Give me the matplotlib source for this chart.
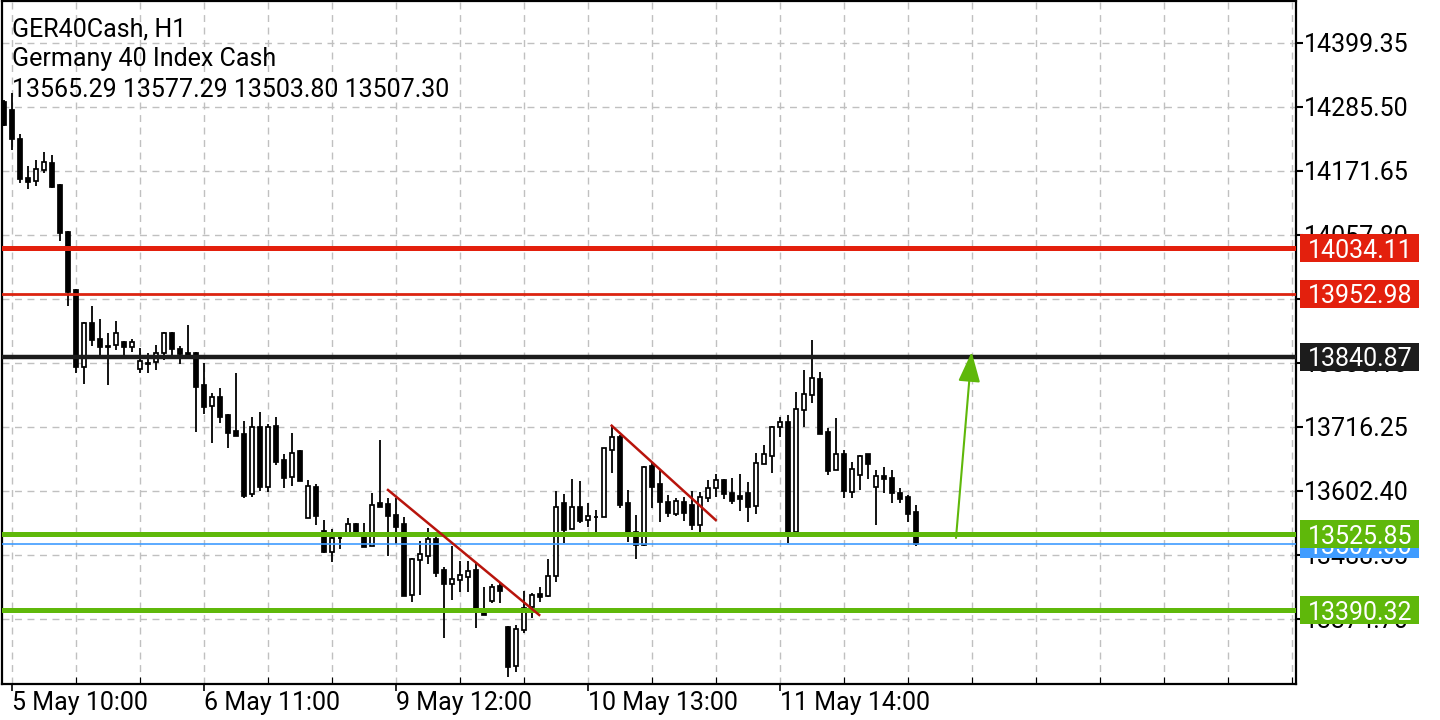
import numpy as np
import matplotlib
matplotlib.use("Agg")
import matplotlib.pyplot as plt
from matplotlib.patches import Rectangle
import matplotlib.transforms as mtransforms

plt.rcParams['font.family'] = ['Roboto', 'DejaVu Sans']

# H1 candles, oldest first (first one is cut by the left edge)
opens = [14294.4, 14280.2, 14228.6, 14159.2, 14153.9, 14173.4, 14185.9, 14146.7, 14063.1, 13959.9,
         13823.0, 13901.2, 13872.8, 13860.4, 13862.2, 13867.5, 13858.6, 13819.4, 13830.1, 13831.9,
         13847.8, 13883.5, 13855.0, 13847.8, 13847.8, 13791.0, 13753.6, 13769.6, 13737.6, 13709.1,
         13703.8, 13597.1, 13716.3, 13609.5, 13718.1, 13657.5, 13627.3, 13673.6, 13554.4, 13609.5,
         13531.2, 13493.9, 13518.8, 13524.1, 13543.7, 13524.1, 13504.6, 13581.1, 13579.3, 13559.7,
         13543.7, 13417.4, 13479.7, 13486.8, 13517.0, 13461.9, 13437.0, 13444.1, 13449.4, 13461.9,
         13385.4, 13406.7, 13433.4, 13360.5, 13291.1, 13355.1, 13396.0, 13419.2, 13415.6, 13451.2,
         13581.1, 13534.8, 13573.9, 13550.8, 13556.2, 13556.2, 13675.3, 13698.5, 13581.1, 13529.5,
         13506.3, 13646.9, 13614.9, 13582.8, 13561.5, 13582.8, 13577.5, 13541.9, 13590.0, 13607.7,
         13622.0, 13598.8, 13593.5, 13598.8, 13575.7, 13650.4, 13664.6, 13716.3, 13725.2, 13529.5,
         13746.5, 13773.2, 13801.6, 13707.4, 13639.8, 13668.2, 13600.6, 13630.9, 13668.2, 13609.5,
         13629.1, 13625.5, 13598.8, 13591.7, 13565.29]
highs = [14298.0, 14310.4, 14237.5, 14180.6, 14191.2, 14205.5, 14200.1, 14148.5, 14064.9, 13961.7,
         13903.0, 13931.5, 13908.4, 13883.5, 13904.8, 13868.5, 13872.8, 13856.8, 13847.8, 13862.2,
         13884.5, 13884.5, 13860.4, 13897.7, 13849.6, 13830.1, 13776.7, 13785.6, 13738.5, 13812.3,
         13727.0, 13734.0, 13742.9, 13721.6, 13734.0, 13668.2, 13705.6, 13674.5, 13622.0, 13614.9,
         13550.8, 13534.8, 13527.7, 13554.4, 13545.0, 13545.5, 13598.8, 13693.1, 13590.0, 13590.0,
         13556.2, 13483.2, 13513.4, 13536.6, 13529.5, 13467.2, 13504.6, 13477.9, 13477.9, 13474.3,
         13431.6, 13437.0, 13438.7, 13361.5, 13364.0, 13424.5, 13420.9, 13431.6, 13481.4, 13602.4,
         13597.1, 13623.8, 13620.2, 13581.1, 13568.6, 13678.9, 13719.8, 13702.0, 13604.2, 13559.7,
         13646.9, 13654.0, 13641.5, 13595.3, 13590.0, 13591.7, 13602.4, 13600.6, 13622.0, 13632.6,
         13623.0, 13625.5, 13632.6, 13618.4, 13670.0, 13684.2, 13718.1, 13734.0, 13737.6, 13778.5,
         13817.7, 13871.0, 13814.1, 13714.5, 13732.3, 13675.3, 13654.0, 13666.4, 13669.0, 13639.8,
         13645.1, 13639.8, 13607.7, 13595.3, 13577.29]
lows = [14251.7, 14209.0, 14150.3, 14139.6, 14145.0, 14168.1, 14142.0, 14047.1, 13931.5, 13812.3,
        13792.8, 13860.4, 13842.6, 13791.0, 13853.2, 13842.6, 13849.6, 13812.3, 13812.3, 13817.7,
        13835.4, 13842.6, 13828.3, 13840.8, 13707.4, 13739.4, 13687.8, 13723.4, 13678.9, 13700.2,
        13590.0, 13591.7, 13602.4, 13600.6, 13648.7, 13607.7, 13611.3, 13620.2, 13554.4, 13541.9,
        13492.1, 13475.7, 13499.2, 13524.1, 13523.0, 13502.8, 13504.6, 13573.9, 13486.8, 13508.1,
        13415.6, 13404.9, 13417.4, 13472.5, 13449.4, 13340.9, 13408.5, 13422.7, 13422.7, 13358.7,
        13381.8, 13403.1, 13403.1, 13271.5, 13280.4, 13349.8, 13376.1, 13404.9, 13413.8, 13440.5,
        13509.9, 13534.8, 13545.5, 13538.4, 13529.5, 13556.2, 13634.4, 13572.2, 13511.7, 13481.4,
        13504.6, 13572.2, 13547.3, 13556.2, 13557.9, 13549.0, 13533.0, 13529.5, 13582.8, 13591.7,
        13588.2, 13579.3, 13566.8, 13547.3, 13561.5, 13650.4, 13634.4, 13698.7, 13509.9, 13529.5,
        13716.3, 13758.9, 13703.8, 13630.9, 13639.8, 13590.0, 13590.0, 13604.2, 13623.8, 13541.9,
        13598.8, 13581.1, 13581.1, 13547.3, 13503.80]
closes = [14253.5, 14228.6, 14157.4, 14152.1, 14175.2, 14187.7, 14143.2, 14061.4, 13956.4, 13823.0,
          13901.2, 13871.0, 13858.6, 13858.6, 13883.5, 13858.6, 13867.5, 13833.7, 13829.0, 13847.8,
          13883.5, 13855.0, 13846.1, 13842.6, 13787.4, 13751.8, 13769.6, 13734.0, 13705.6, 13700.2,
          13593.5, 13716.3, 13609.5, 13716.3, 13654.0, 13625.5, 13670.0, 13620.2, 13611.3, 13557.9,
          13493.9, 13518.8, 13519.5, 13543.7, 13524.1, 13502.8, 13577.5, 13573.9, 13557.9, 13538.4,
          13415.6, 13481.4, 13490.3, 13517.0, 13456.5, 13437.0, 13445.9, 13453.0, 13460.1, 13394.3,
          13381.8, 13431.6, 13424.5, 13289.3, 13356.9, 13394.3, 13417.4, 13413.8, 13451.2, 13573.9,
          13533.0, 13573.9, 13549.0, 13557.9, 13555.5, 13678.9, 13698.5, 13577.5, 13527.7, 13506.3,
          13645.1, 13609.5, 13582.8, 13563.3, 13584.6, 13563.3, 13541.9, 13591.7, 13607.7, 13622.0,
          13597.1, 13584.6, 13588.2, 13573.9, 13652.2, 13668.2, 13716.3, 13725.2, 13529.5, 13748.3,
          13774.9, 13803.4, 13703.8, 13638.0, 13668.2, 13602.4, 13641.5, 13664.6, 13650.4, 13629.1,
          13623.8, 13598.8, 13588.2, 13561.5, 13507.30]

price_ticks = [14399.35, 14285.50, 14171.65, 14057.80, 13943.95, 13830.10,
               13716.25, 13602.40, 13488.55, 13374.70]
time_labels = ["5 May 10:00", "6 May 11:00", "9 May 12:00", "10 May 13:00", "11 May 14:00"]
time_label_idx = [1, 25, 49, 73, 97]

# horizontal levels and the bid line
levels = [14034.11, 13952.98, 13840.87, 13525.85, 13390.32]
level_colors = ["#e3200d", "#dc2410", "#1c1c1c", "#5fb80a", "#5fb80a"]
box_colors = ["#e3200d", "#e3200d", "#1c1c1c", "#5fb80a", "#5fb80a"]
level_widths = [3.6, 2.0, 3.2, 3.6, 3.6]
bid = 13507.30

# hand-drawn trend lines (bar index, price)
trend_lines = [((48, 13604.2), (66.9, 13381.9)),
               ((75.96, 13718.6), (88.96, 13550.8))]
arrow_from = (119.0, 13518.8)
arrow_to = (120.96, 13849.6)

fig = plt.figure(figsize=(14.4, 7.2), dpi=100)
ax = fig.add_axes([2 / 1440, 1 - 684 / 720, 1294 / 1440, 683 / 720])

x = np.arange(len(opens))
o = np.array(opens); h = np.array(highs); l = np.array(lows); c = np.array(closes)
up = c >= o

ax.vlines(x, l, h, color="black", lw=1.3, zorder=3)
ax.bar(x, c - o, bottom=o, width=0.58, color=np.where(up, "white", "black"),
       edgecolor="black", linewidth=1.25, zorder=4)

for lev, col, lw in zip(levels, level_colors, level_widths):
    ax.axhline(lev, color=col, lw=lw, zorder=5)
ax.axhline(bid, color="#409cff", lw=1.2, zorder=5)

for (x0, y0), (x1, y1) in trend_lines:
    ax.plot([x0, x1], [y0, y1], color="#b8140c", lw=1.8, zorder=6)

ax.annotate("", xy=arrow_to, xytext=arrow_from,
            arrowprops=dict(arrowstyle="-|>,head_length=1.85,head_width=0.68",
                            mutation_scale=10, color="#5fb80a", lw=1.5,
                            shrinkA=0, shrinkB=0), zorder=6)

ax.set_xlim(-0.25, 161.5)
ax.set_ylim(13259.07, 14474.06)

# axes look
ax.yaxis.tick_right()
ax.set_yticks(price_ticks)
ax.set_yticklabels([f"{v:.2f}" for v in price_ticks])
ax.tick_params(axis="y", direction="out", length=5, width=1.5, pad=1.0,
               labelsize=18, colors="black")
ax.set_xticks(time_label_idx)
ax.set_xticklabels(time_labels)
for lab in ax.get_xticklabels():
    lab.set_horizontalalignment("left")
ax.set_xticks(np.arange(1, 162, 8), minor=True)
ax.tick_params(axis="x", which="major", direction="out", length=5, width=1.2,
               pad=0, labelsize=18)
ax.tick_params(axis="x", which="minor", direction="in", length=5, width=0.8)
ax.grid(True, which="both", color="#c0c0c0", linestyle=(0, (5, 4)), lw=1)
ax.set_axisbelow(True)
for sp in ax.spines.values():
    sp.set_linewidth(1.6)
    sp.set_color("black")

# price labels on the right scale, each box above the previous one
box_tr = mtransforms.blended_transform_factory(ax.transAxes, ax.transData)
box_h = 28 * (14474.06 - 13259.07) / 683
box_items = [(bid, "#409cff")] + list(zip(levels, box_colors))
for i, (val, col) in enumerate(box_items):
    z = 10 + 2 * i
    ax.add_patch(Rectangle((1298 / 1294, val - box_h / 2), 119 / 1294, box_h,
                           transform=box_tr, facecolor=col, edgecolor="none",
                           clip_on=False, zorder=z))
    ax.text(1306 / 1294, val, f"{val:.2f}", transform=box_tr, color="white",
            fontsize=18, va="center_baseline", ha="left", clip_on=False, zorder=z + 1)

# header
fig.text(12 / 1440, 1 - 37 / 720, "GER40Cash, H1", fontsize=18, va="baseline")
fig.text(12 / 1440, 1 - 66 / 720, "Germany 40 Index Cash", fontsize=18, va="baseline")
fig.text(12 / 1440, 1 - 97 / 720, "13565.29 13577.29 13503.80 13507.30", fontsize=18,
         va="baseline")

fig.savefig("out.png", dpi=100)
